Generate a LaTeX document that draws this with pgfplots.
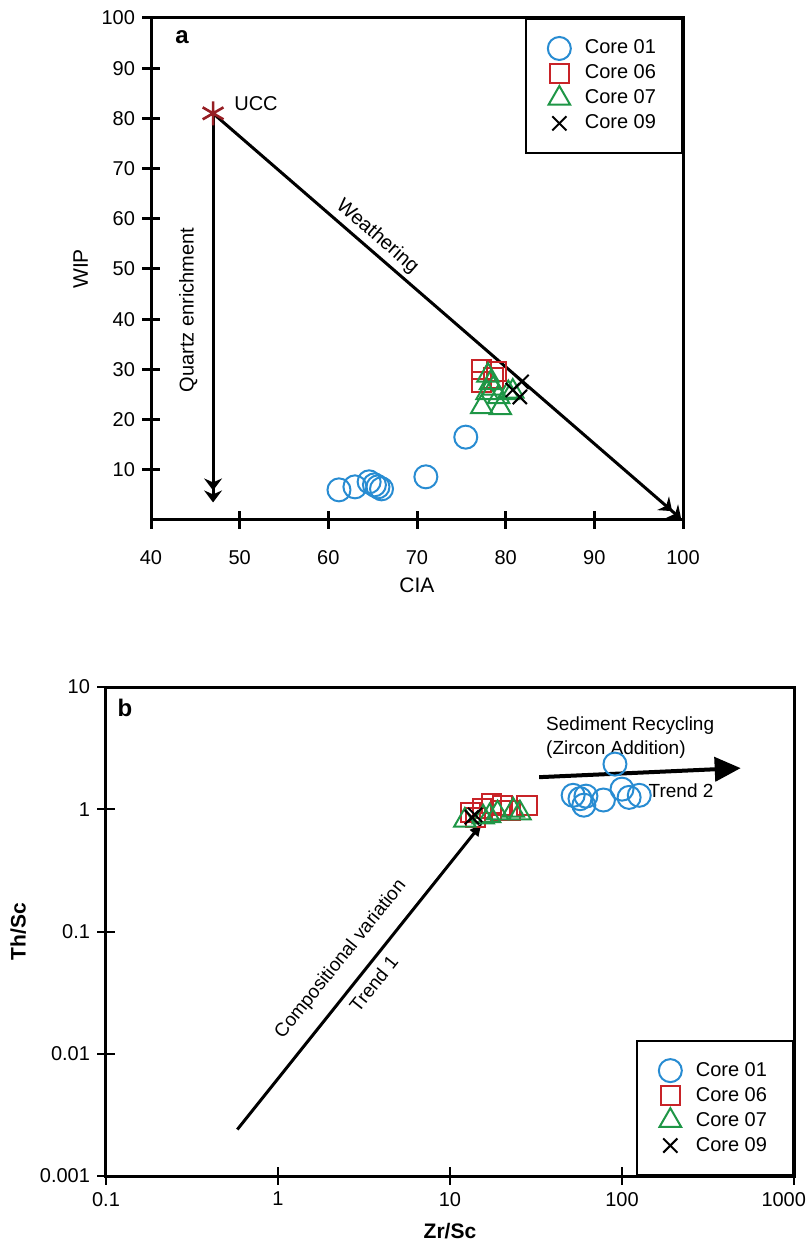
\documentclass[border=0pt]{standalone}
\usepackage{pgfplots}
\pgfplotsset{compat=1.18}
\usepackage{fontspec}
\setmainfont{Liberation Sans}
\usetikzlibrary{arrows.meta}
\definecolor{cblue}{RGB}{40,140,210}
\definecolor{cred}{RGB}{200,35,40}
\definecolor{cgreen}{RGB}{30,150,70}
\definecolor{ucc}{RGB}{150,30,35}
\pgfplotsset{
  core01/.style={only marks, mark=o, mark size=5.75pt, cblue, line width=1pt},
  core06/.style={only marks, mark=square, mark size=4.8pt, cred, line width=1pt},
  core07/.style={only marks, mark=triangle, mark size=6.2pt, cgreen, line width=1pt},
  core09/.style={only marks, mark=x, mark size=5pt, black, line width=1pt},
  common/.style={
    scale only axis, anchor=south west,
    tick pos=left, tick align=center, major tick length=9pt,
    axis line style={line width=1.5pt},
    tick label style={font=\fontsize{10}{12}\selectfont},
    label style={font=\fontsize{10.5}{12}\selectfont},
    /pgf/number format/assume math mode=true,
    legend cell align=left,
    clip=false,
  },
}
\begin{document}
\begin{tikzpicture}
\path[use as bounding box] (0,0) rectangle (405.5pt,620.5pt);
% ---------------- panel a ----------------
\begin{axis}[common,
  at={(75.5pt,360.5pt)}, width=266pt, height=251pt,
  xmin=40, xmax=100, ymin=0, ymax=100,
  xtick={40,50,...,100}, ytick={10,20,...,100},
  every tick/.style={line width=1.5pt, black},
  xticklabel style={yshift=-7pt},
  xlabel={CIA}, ylabel={WIP},
  legend style={at={(1,1)}, anchor=north east, draw=black, line width=1pt,
    font=\fontsize{10}{12}\selectfont, inner xsep=11pt, inner ysep=8.5pt, column sep=5pt},
]
\addplot[forget plot, line width=1.5pt, -{Stealth[length=6pt,width=9pt,inset=2pt] Stealth[length=6pt,width=9pt,inset=2pt]}] coordinates {(47,81) (47,3.5)};
\addplot[forget plot, line width=1.5pt, -{Stealth[length=6pt,width=9pt,inset=2pt] Stealth[length=6pt,width=9pt,inset=2pt]}] coordinates {(47,81) (99.8,0.2)};
\addplot[forget plot, only marks, mark=asterisk, mark size=6pt, ucc, line width=1.3pt] coordinates {(47,81)};
\addplot[core01] coordinates {(61.2,6.0) (63.0,6.6) (64.6,7.6) (65.2,7.0) (65.6,6.6) (66.0,6.2) (71.0,8.6) (75.5,16.5)};
\addplot[core06] coordinates {(77.3,29.9) (79.0,29.5) (77.3,27.5) (78.6,28.3)};
\addplot[core07] coordinates {(78.0,28.8) (78.3,27.3) (77.9,25.3) (77.3,22.5) (79.4,22.3) (80.3,25.3) (80.8,25.6) (79.2,24.5) (78.6,26.2)};
\addplot[core09] coordinates {(81.8,27.5) (81.6,24.5) (80.8,25.9)};
\legend{Core 01,Core 06,Core 07,Core 09}
\node[anchor=west, font=\fontsize{10}{12}\selectfont] at (axis cs:48.6,82.9) {UCC};
\node[rotate=90, font=\fontsize{10}{12}\selectfont] at (axis cs:44.2,41.8) {Quartz enrichment};
\node[rotate=-41, anchor=south, font=\fontsize{10}{12}\selectfont] at (axis cs:64.3,54) {Weathering};
\node[font=\bfseries\fontsize{12}{14}\selectfont] at (axis cs:43.5,96.2) {a};
\end{axis}
% ---------------- panel b ----------------
\begin{axis}[common,
  at={(53pt,32.5pt)}, width=344pt, height=244.5pt,
  xmode=log, ymode=log, xmin=0.1, xmax=1000, ymin=0.001, ymax=10,
  xtick={0.1,1,10,100,1000},
  xticklabels={0.1,1,10,100,\raisebox{2pt}{\makebox[0pt][r]{1000\kern-6pt}}},
  ytick={0.001,0.01,0.1,1,10}, yticklabels={0.001,0.01,0.1,1,10},
  xminorticks=false, yminorticks=false,
  every tick/.style={line width=1pt, black},
  xlabel={\bfseries Zr/Sc}, ylabel={\bfseries Th/Sc},
  legend style={at={(1,0)}, anchor=south east, draw=black, line width=1pt,
    font=\fontsize{10}{12}\selectfont, inner xsep=11pt, inner ysep=8.5pt, column sep=5pt},
]
\addplot[forget plot, line width=1.5pt, -{Latex[length=7pt,width=6pt]}] coordinates {(0.58,0.0024) (15.5,0.78)};
\addplot[forget plot, line width=2pt, -{Triangle[length=13pt,width=12pt]}] coordinates {(33,1.83) (490,2.17)};
\addplot[core01] coordinates {(91,2.34) (52,1.30) (61.7,1.28) (60,1.08) (78,1.19) (100,1.46) (110,1.25) (126,1.30) (57,1.22)};
\addplot[core06] coordinates {(13.1,0.94) (15.4,1.02) (17.5,1.12) (20.3,1.08) (28,1.08) (19.6,0.98) (22.5,0.98) (14,0.85)};
\addplot[core07] coordinates {(12.2,0.81) (15.6,0.86) (23.3,0.98) (18.9,0.93) (25.5,0.93) (17,0.88)};
\addplot[core09] coordinates {(13.4,0.86) (14,0.9)};
\legend{Core 01,Core 06,Core 07,Core 09}
\node[font=\bfseries\fontsize{12}{14}\selectfont] at (axis cs:0.129,6.7) {b};
\node[anchor=west, font=\fontsize{9.5}{11}\selectfont] at (axis cs:33,4.8) {Sediment Recycling};
\node[anchor=west, font=\fontsize{9.5}{11}\selectfont] at (axis cs:33,3.1) {(Zircon Addition)};
\node[anchor=west, font=\fontsize{9.5}{11}\selectfont] at (axis cs:130,1.43) {Trend 2};
\node[rotate=51.3, font=\fontsize{9.5}{11}\selectfont] at (axis cs:2.32,0.059) {Compositional variation};
\node[rotate=51.3, font=\fontsize{9.5}{11}\selectfont] at (axis cs:3.6,0.0375) {Trend 1};
\end{axis}
\end{tikzpicture}
\end{document}
